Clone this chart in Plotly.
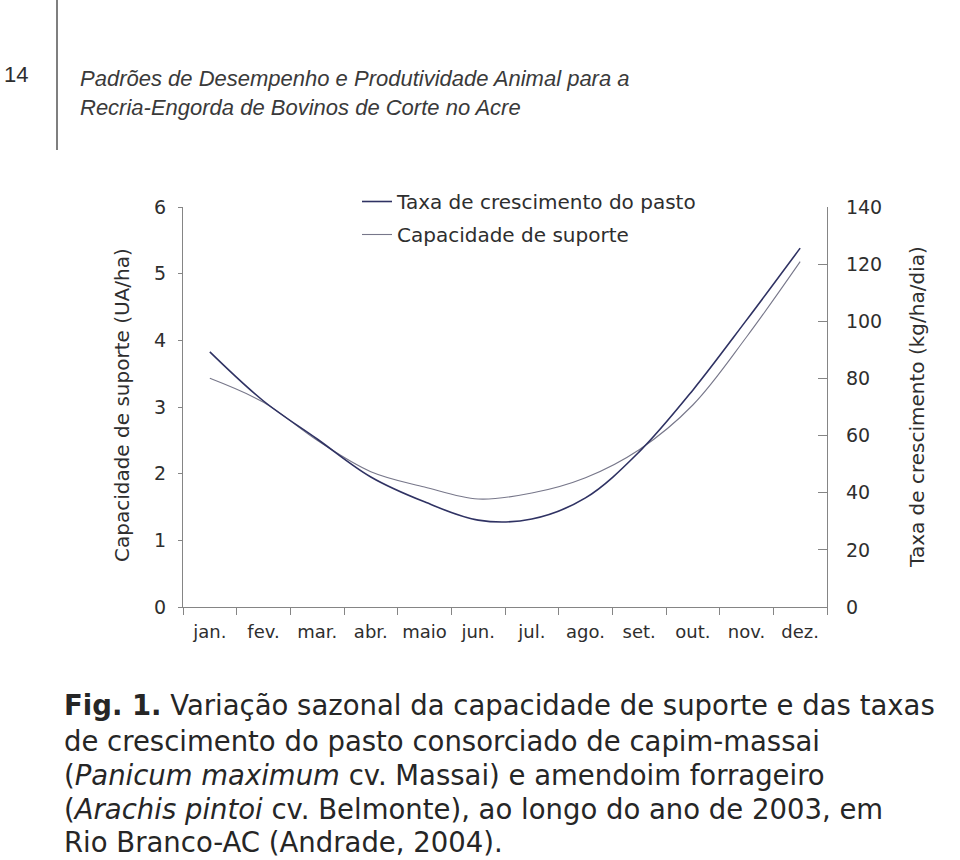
import plotly.graph_objects as go

meses = ["jan.", "fev.", "mar.", "abr.", "maio", "jun.",
         "jul.", "ago.", "set.", "out.", "nov.", "dez."]

# taxa de crescimento do pasto (kg/ha/dia) - eixo direito
taxa = [89.3, 72.1, 58.8, 45.5, 36.8, 30.4, 30.8, 38.2, 54.3, 75.9, 100.4, 125.6]

# capacidade de suporte (UA/ha) - eixo esquerdo
capacidade = [3.43, 3.07, 2.50, 2.03, 1.80, 1.62, 1.71, 1.94, 2.36, 3.03, 4.05, 5.18]

FONT = "DejaVu Sans, Verdana, sans-serif"
HEAD_FONT = "Liberation Sans, Arial, sans-serif"
TXT = "#2e2e2e"
AXIS = "#858585"

# plot area in page pixels: x 183..827, y 207..607
def px(x):
    return (x - 183) / 644

def py(y):
    return (607 - y) / 400


fig = go.Figure()

fig.add_trace(go.Scatter(x=meses, y=taxa, yaxis="y2",
                         name="Taxa de crescimento do pasto", legendgroup="a",
                         mode="lines", line_shape="spline",
                         line={"color": "#2f3263", "width": 1.6}))

fig.add_trace(go.Scatter(x=meses, y=capacidade,
                         name="Capacidade de suporte", legendgroup="b",
                         mode="lines", line_shape="spline",
                         line={"color": "#77778a", "width": 1.1}))

fig.update_layout(
    width=960, height=860,
    margin={"l": 183, "r": 133, "t": 207, "b": 253},
    paper_bgcolor="white", plot_bgcolor="white",
    font={"family": FONT, "color": TXT, "size": 19},
    showlegend=True,
    legend={"x": px(357), "y": py(182), "xanchor": "left", "yanchor": "top",
            "bgcolor": "rgba(0,0,0,0)", "font": {"size": 20, "color": TXT},
            "tracegroupgap": 4, "itemwidth": 30},
    xaxis={"type": "category", "range": [-0.5, 11.5],
           "showline": True, "linecolor": AXIS, "linewidth": 1.3,
           "ticks": "outside", "tickson": "boundaries", "ticklen": 7,
           "tickcolor": AXIS, "tickwidth": 1.3, "showgrid": False,
           "tickangle": 0,
           "tickfont": {"size": 18, "color": TXT}, "ticklabelstandoff": 8},
    yaxis={"range": [0, 6], "dtick": 1, "showline": True, "linecolor": AXIS,
           "linewidth": 1.3, "ticks": "outside", "ticklen": 4, "tickcolor": AXIS,
           "showgrid": False, "zeroline": False,
           "tickfont": {"size": 19, "color": TXT}, "ticklabelstandoff": 8},
    yaxis2={"range": [0, 140], "dtick": 20, "overlaying": "y", "side": "right",
            "showline": True, "linecolor": AXIS, "linewidth": 1.3,
            "ticks": "inside", "ticklen": 9, "tickcolor": AXIS,
            "showgrid": False, "zeroline": False,
            "tickfont": {"size": 19, "color": TXT}, "ticklabelstandoff": 14},
)

annotations = [
    dict(text="Capacidade de suporte (UA/ha)", x=px(122), y=py(405),
         textangle=-90, xanchor="center", font={"size": 20}),
    dict(text="Taxa de crescimento (kg/ha/dia)", x=px(917), y=py(407),
         textangle=-90, xanchor="center", font={"size": 20}),
    dict(text="14", x=px(2), y=py(75), xanchor="left",
         font={"size": 22, "family": HEAD_FONT}),
    dict(text="<i>Padrões de Desempenho e Produtividade Animal para a</i>",
         x=px(78), y=py(78), xanchor="left",
         font={"size": 22, "color": "#3a3a3a", "family": HEAD_FONT}),
    dict(text="<i>Recria-Engorda de Bovinos de Corte no Acre</i>",
         x=px(78), y=py(108), xanchor="left",
         font={"size": 22, "color": "#3a3a3a", "family": HEAD_FONT}),
]

legenda = [
    "<b>Fig. 1.</b> Variação sazonal da capacidade de suporte e das taxas",
    "de crescimento do pasto consorciado de capim-massai",
    "(<i>Panicum maximum</i> cv. Massai) e amendoim forrageiro",
    "(<i>Arachis pintoi</i> cv. Belmonte), ao longo do ano de 2003, em",
    "Rio Branco-AC (Andrade, 2004).",
]
linhas_y = [705, 741, 775, 809, 842]
for texto, yy in zip(legenda, linhas_y):
    annotations.append(dict(text=texto, x=px(62), y=py(yy), xanchor="left",
                            font={"size": 27.5, "color": "#262626"}))

for a in annotations:
    a.setdefault("xref", "paper")
    a.setdefault("yref", "paper")
    a.setdefault("showarrow", False)
    a.setdefault("yanchor", "middle")
fig.update_layout(annotations=annotations)

fig.add_shape(type="line", xref="paper", yref="paper",
              x0=px(57), x1=px(57), y0=py(0), y1=py(150),
              line={"color": "#555555", "width": 1.5})

fig.write_html("out.html", config={"displayModeBar": False},
               post_script="document.body.style.margin='0';")
